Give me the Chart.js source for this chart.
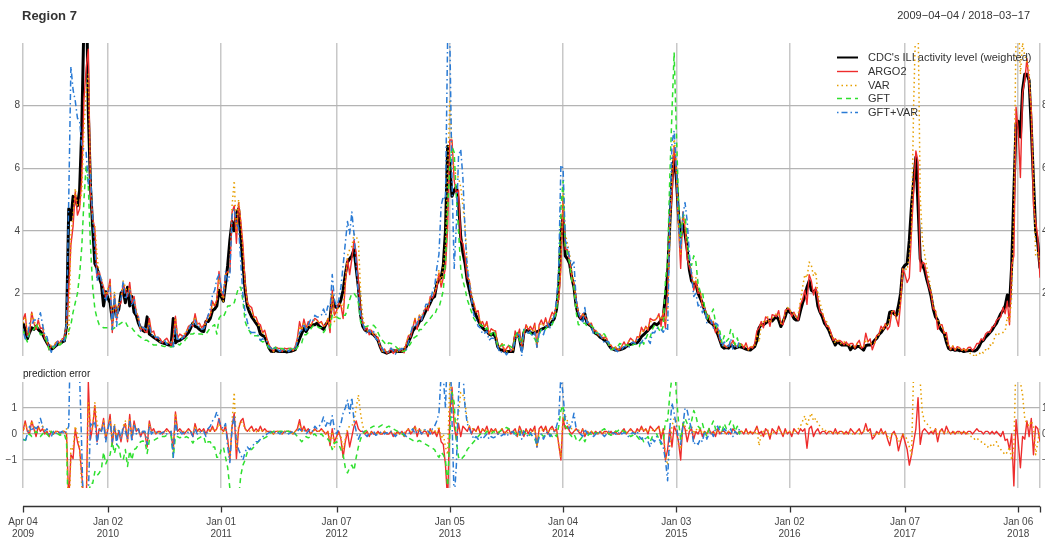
<!DOCTYPE html>
<html>
<head>
<meta charset="utf-8">
<title>Region 7</title>
<script src="https://cdn.jsdelivr.net/npm/chart.js@4.4.1/dist/chart.umd.min.js"></script>
<style>
  body { margin: 0; background: #fff; }
  #wrap { position: relative; width: 1045px; height: 550px; }
  canvas { position: absolute; left: 0; }
  #main { top: 0; }
  #err { top: 362px; }
</style>
</head>
<body>
<div id="wrap">
  <canvas id="main" width="1045" height="362"></canvas>
  <canvas id="err" width="1045" height="188"></canvas>
</div>
<script>
// Weekly series, week 0 = 2009-04-04 ... week 467 = 2018-03-17
const cdc = [
  1.05, 0.85, 0.55, 0.75, 0.9, 0.85, 0.95, 0.85, 0.78, 0.7,
  0.55, 0.42, 0.3, 0.22, 0.26, 0.32, 0.38, 0.4, 0.45, 0.48,
  0.95, 4.7, 4.35, 5.1, 5.05, 4.8, 5.3, 7.3, 10.8, 12.2,
  7.8, 5.4, 4.1, 2.95, 2.8, 2.5, 2.3, 1.6, 2.05, 1.85,
  1.7, 1.15, 1.65, 1.35, 1.5, 2.0, 2.1, 1.7, 2.2, 1.6,
  1.9, 1.4, 1.3, 1.05, 0.9, 0.82, 0.78, 1.25, 0.7, 0.65,
  0.6, 0.55, 0.5, 0.45, 0.42, 0.4, 0.37, 0.35, 0.34, 1.2,
  0.42, 0.48, 0.5, 0.55, 0.6, 0.67, 0.75, 0.9, 1.05, 0.95,
  0.92, 0.85, 0.8, 0.78, 1.1, 1.1, 1.2, 1.45, 1.5, 1.6,
  2.1, 1.9, 1.75, 2.3, 2.9, 3.7, 4.3, 4.0, 4.55, 4.7,
  3.8, 2.95, 2.1, 1.6, 1.4, 1.25, 1.15, 1.05, 0.95, 0.7,
  0.65, 0.62, 0.45, 0.25, 0.15, 0.14, 0.18, 0.15, 0.14, 0.14,
  0.15, 0.13, 0.14, 0.15, 0.17, 0.2, 0.38, 0.55, 0.72, 0.88,
  0.78, 0.9, 0.95, 1.0, 1.0, 1.05, 0.95, 0.9, 0.85, 1.0,
  1.1, 1.2, 1.9, 1.6, 1.55, 1.6, 1.8, 2.1, 2.6, 3.0,
  3.1, 3.2, 3.4, 2.8, 2.2, 1.3, 0.95, 0.83, 0.8, 0.78,
  0.72, 0.68, 0.6, 0.5, 0.3, 0.15, 0.12, 0.09, 0.12, 0.15,
  0.18, 0.16, 0.14, 0.15, 0.14, 0.2, 0.3, 0.45, 0.6, 0.8,
  0.9, 0.95, 1.1, 1.15, 1.3, 1.45, 1.55, 1.7, 1.85, 1.9,
  2.3, 2.45, 2.5, 2.9, 4.0, 6.7, 6.1, 5.1, 5.3, 5.4,
  4.9, 3.8, 3.3, 2.95, 2.4, 2.1, 1.8, 1.5, 1.3, 1.15,
  1.0, 0.9, 0.83, 0.8, 0.7, 0.67, 0.72, 0.6, 0.3, 0.2,
  0.19, 0.15, 0.14, 0.14, 0.15, 0.14, 0.6, 0.7, 0.56, 0.2,
  0.75, 0.8, 0.83, 0.75, 0.72, 0.75, 0.78, 0.8, 0.85, 0.88,
  0.92, 0.95, 1.0, 1.1, 1.2, 1.5, 2.2, 3.8, 4.5, 3.2,
  3.1, 2.95, 2.5, 2.2, 1.6, 1.3, 1.2, 1.15, 1.35, 1.05,
  1.0, 0.95, 0.8, 0.72, 0.68, 0.6, 0.56, 0.5, 0.47, 0.35,
  0.25, 0.22, 0.19, 0.19, 0.2, 0.22, 0.25, 0.3, 0.35, 0.37,
  0.4, 0.4, 0.42, 0.5, 0.62, 0.68, 0.75, 0.82, 0.9, 0.95,
  1.04, 1.0, 1.05, 1.15, 1.26, 1.9, 2.6, 4.2, 5.6, 6.4,
  5.7, 4.5, 3.8, 4.2, 3.9, 3.4, 2.75, 2.4, 2.3, 2.3,
  2.0, 1.85, 1.68, 1.45, 1.26, 1.1, 1.05, 1.0, 0.85, 0.7,
  0.5, 0.3, 0.25, 0.27, 0.25, 0.35, 0.3, 0.25, 0.28, 0.3,
  0.28, 0.25, 0.22, 0.2, 0.19, 0.25, 0.3, 0.5, 0.9, 1.0,
  1.0, 1.05, 1.1, 1.15, 1.12, 1.2, 1.26, 1.15, 0.94, 1.1,
  1.26, 1.5, 1.4, 1.36, 1.2, 1.15, 1.15, 1.45, 1.7, 1.9,
  2.2, 2.4, 2.1, 2.05, 2.1, 1.6, 1.4, 1.26, 1.05, 0.95,
  0.83, 0.65, 0.5, 0.35, 0.46, 0.4, 0.35, 0.36, 0.35, 0.34,
  0.2, 0.3, 0.25, 0.3, 0.3, 0.25, 0.19, 0.33, 0.35, 0.35,
  0.4, 0.5, 0.56, 0.68, 0.75, 0.85, 0.94, 1.04, 1.4, 1.42,
  1.35, 1.3, 1.6, 2.0, 2.8, 2.9, 2.95, 3.7, 4.8, 5.6,
  6.35, 4.8, 3.1, 2.9, 2.75, 2.45, 2.2, 1.9, 1.5, 1.25,
  1.15, 0.9, 0.8, 0.72, 0.45, 0.25, 0.2, 0.22, 0.18, 0.2,
  0.17, 0.18, 0.14, 0.16, 0.17, 0.18, 0.17, 0.16, 0.2, 0.3,
  0.45, 0.5, 0.6, 0.67, 0.75, 0.83, 0.95, 1.04, 1.2, 1.35,
  1.45, 1.6, 1.95, 1.6, 2.9, 5.2, 7.4, 7.5, 7.0, 8.5,
  9.0, 9.0, 8.8, 7.3, 5.6, 4.0, 3.6, 2.8
];

// prediction errors (model estimate minus CDC), same weeks
const argoErr = [
  0.1, 0.5, 0.1, 0.0, 0.5, 0.2, -0.1, 0.3, 0.1, 0.2, 0.0, 0.1, -0.1, 0.1, 0.0, 0.1, 0.1, 0.0, 0.1, 0.1, 0.0,
  -2.6, -0.8, -0.95, 0.2, -0.3, -0.6, -1.6, -2.6, -3.0, 2.0, -0.2, 0.3, 1.1, -0.3, 0.2,
  0.1, 0.6, -0.2, 0.2, 0.75, -0.4, 0.3, -0.2, 0.1, -0.3, 0.2, 0.4, -0.3, 0.75, -0.2, 0.5, 0.1, 0.2, -0.1, 0.1,
  0.0, -0.5, 0.5, 0.1, 0.2, 0.0, 0.1, 0.1, 0.0, 0.1, 0.2, 0.1, 0.0, -0.6, 0.85, 0.1, 0.2, 0.1, 0.0, 0.1,
  0.2, 0.1, -0.1, 0.4, 0.1, 0.2, 0.1, 0.2, 0.0, 0.2, 0.1, 0.3, 0.1, 0.2, 0.6, 0.2, 0.1, 0.3, -0.2, -1.0,
  0.3, 0.8, -0.95, 0.2, 0.5, 0.6, 0.2, 0.1, 0.2, 0.3, 0.1, 0.2, 0.1, 0.3, 0.1, 0.2, 0.1, 0.1, 0.1, 0.0,
  0.1, 0.1, 0.1, 0.0, 0.1, 0.1, 0.1, 0.1, 0.0, 0.1, 0.2, 0.55, 0.1, 0.3, 0.1, 0.2, 0.0, 0.1, 0.2, 0.1,
  0.1, 0.2, 0.1, 0.0, 0.1, -0.45, 0.2, -0.3, -0.1, 0.1, -0.2, -0.9, -0.3, 0.1, -0.5, -0.1, 0.3, 0.5, 0.2, 0.1,
  0.1, 0.0, 0.1, -0.1, 0.1, 0.0, 0.0, 0.1, 0.0, 0.0, 0.1, 0.0, 0.0, 0.1, -0.1, 0.0, 0.1, 0.0, 0.1, -0.1,
  0.1, 0.2, 0.0, 0.1, 0.3, -0.1, 0.2, 0.0, 0.1, 0.1, -0.1, 0.2, 0.0, 0.1, -0.1, 0.2, -0.3, -0.4, -1.2, -2.6,
  0.8, 1.8, 0.3, -0.2, 0.4, -0.1, 0.3, 0.2, 0.1, 0.3, 0.0, 0.2, 0.1, 0.3, 0.0, 0.2, 0.1, 0.3, 0.0, 0.2,
  0.1, 0.2, 0.0, 0.1, 0.2, 0.0, 0.1, 0.2, 0.0, 0.1, 0.2, -0.1, 0.3, 0.1, -0.1, 0.2, 0.0, 0.2, 0.1, 0.3,
  -0.5, 0.2, 0.3, 0.1, 0.3, 0.0, 0.2, 0.3, 0.1, 0.2, -0.4, -1.0, 0.6, 0.2, 0.3, 0.1, 0.0, 0.1, 0.2, 0.1,
  0.0, 0.2, -0.1, 0.1, 0.0, 0.1, 0.0, 0.1, 0.0, 0.1, 0.0, 0.1, 0.1, 0.0, 0.1, 0.0, 0.1, 0.0, 0.0, 0.1,
  0.2, 0.0, 0.1, 0.2, 0.1, 0.0, 0.2, 0.1, 0.3, 0.1, 0.2, 0.0, 0.3, 0.2, 0.1, 0.2, 0.3, -0.2, 0.2, -1.0,
  -0.6, 0.2, -0.5, 0.3, 0.1, -0.3, -1.0, 0.4, 0.2, -0.3, 0.1, 0.2, -0.2, 0.1, 0.0, 0.2, -0.1, 0.1, 0.0, 0.2,
  0.0, 0.1, -0.1, 0.2, 0.0, 0.1, 0.1, 0.0, 0.1, 0.0, 0.2, 0.1, 0.0, 0.1, 0.1, 0.0, 0.2, 0.0, 0.1, 0.0,
  0.1, 0.3, 0.0, 0.1, -0.1, 0.2, 0.1, -0.2, 0.2, 0.1, 0.0, 0.3, 0.1, -0.1, 0.2, 0.0, 0.1, -0.1, 0.2, 0.1,
  0.0, 0.2, 0.1, 0.2, -0.55, 0.2, 0.3, -0.1, 0.1, 0.2, 0.0, 0.1, 0.1, 0.0, 0.1, 0.1, 0.0, 0.2, 0.0, 0.1,
  0.1, 0.0, 0.1, 0.0, 0.2, 0.1, 0.0, 0.1, 0.2, 0.0, 0.1, 0.4, 0.1, 0.2, -0.2, -0.1, 0.1, 0.0, 0.2, 0.0,
  0.1, -0.2, -0.45, 0.0, 0.1, -0.1, -0.65, -0.3, 0.0, -0.3, -0.6, -1.2, -0.8, -0.3, 0.2, 1.4, -0.4, 0.1, 0.2, 0.1,
  0.0, 0.1, 0.0, 0.2, -0.3, 0.1, 0.2, 0.0, 0.3, 0.1, 0.0, 0.1, 0.0, 0.1, 0.1, 0.0, 0.1, 0.0, 0.1, 0.1,
  0.0, 0.1, 0.2, 0.1, 0.1, 0.0, 0.1, 0.1, 0.0, 0.1, 0.0, 0.1, 0.0, -0.1, 0.1, -0.25, -0.2, -0.6, 0.0, -2.0,
  0.55, -0.3, -1.3, -0.1, -0.2, 0.5, -0.1, 0.6, -0.8, 0.3, 0.2, -0.3
];

const varErr = [
  0.0, 0.4, 0.2, 0.1, 0.5, 0.3, 0.0, 0.2, 0.2, 0.3, 0.1, 0.0, 0.1, 0.1, 0.0, 0.1, 0.05, 0.0, 0.1, 0.1, 0.2,
  -4.0, -0.5, -0.6, 0.3, 0.0, -0.5, -2.0, -3.5, -3.8, 1.2, 0.3, 0.2, 1.2, 0.4, 0.1,
  0.2, 0.5, -0.1, 0.3, 0.6, -0.2, 0.4, -0.1, 0.2, -0.2, 0.3, 0.5, -0.2, 0.6, -0.1, 0.4, 0.2, 0.1, 0.0, 0.1,
  0.1, -0.4, 0.4, 0.1, 0.1, 0.05, 0.1, 0.0, 0.05, 0.1, 0.1, 0.05, 0.1, -0.7, 0.8, 0.1, 0.1, 0.05, 0.1, 0.1,
  0.15, 0.1, 0.0, 0.3, 0.1, 0.1, 0.15, 0.1, 0.0, 0.1, 0.1, 0.2, 0.1, 0.2, 0.4, 0.1, 0.0, 0.3, -0.3, -0.9,
  0.5, 1.6, -0.6, 0.3, 0.5, 0.4, 0.2, 0.1, 0.1, 0.2, 0.1, 0.1, 0.05, 0.2, 0.1, 0.1, 0.05, 0.1, 0.05, 0.0,
  0.05, 0.1, 0.05, 0.0, 0.1, 0.05, 0.1, 0.05, 0.0, 0.1, 0.1, 0.4, 0.1, 0.2, 0.1, 0.1, 0.0, 0.1, 0.15, 0.1,
  0.1, 0.15, 0.1, 0.0, 0.1, -0.3, 0.1, -0.5, -0.2, 0.0, -0.1, -0.6, -0.2, 0.2, 0.3, 0.3, 0.5, 1.0, 1.5, 0.8,
  0.3, 0.1, 0.0, 0.1, 0.05, 0.0, 0.1, 0.0, 0.05, 0.0, 0.1, 0.0, 0.05, 0.1, 0.0, 0.05, 0.0, 0.1, 0.0, 0.05,
  0.1, 0.2, 0.1, 0.15, 0.3, 0.1, 0.2, 0.1, 0.15, 0.1, 0.0, 0.2, 0.1, 0.15, 0.0, 0.3, -0.2, 0.0, -0.5, -0.8,
  2.1, 1.5, 0.6, 0.4, 0.8, 1.6, 1.5, 1.2, 0.5, 0.3, 0.2, 0.2, 0.1, 0.2, 0.1, 0.15, 0.1, 0.2, 0.05, 0.1,
  0.1, 0.15, 0.05, 0.1, 0.2, 0.1, 0.0, 0.1, 0.1, 0.05, 0.1, -0.1, 0.2, 0.0, 0.0, 0.15, 0.1, 0.1, 0.05, 0.2,
  -0.5, 0.1, 0.2, 0.1, 0.2, 0.1, 0.1, 0.2, 0.1, 0.1, -0.4, -0.9, 0.8, 0.7, 0.5, 0.3, 0.2, 0.2, 0.1, 0.15,
  0.1, 0.15, 0.0, 0.1, 0.05, 0.1, 0.0, 0.1, 0.05, 0.0, 0.1, 0.05, 0.0, 0.1, 0.05, 0.0, 0.1, 0.0, 0.05, 0.1,
  0.1, 0.05, 0.1, 0.15, 0.1, 0.05, 0.1, 0.15, 0.2, 0.1, 0.2, 0.05, 0.2, 0.15, 0.1, 0.2, 0.25, 0.0, 0.1, -0.8,
  -1.2, -0.5, 0.3, 0.6, 0.5, -0.4, -0.6, 0.4, 0.3, 0.1, 0.2, 0.3, 0.0, 0.2, 0.1, 0.2, 0.0, 0.1, 0.05, 0.1,
  0.05, 0.1, 0.0, 0.1, 0.05, 0.1, 0.05, 0.0, 0.1, 0.05, 0.15, 0.1, 0.0, 0.1, 0.1, 0.05, 0.1, 0.0, 0.1, 0.05,
  0.0, 0.2, -0.45, 0.0, 0.1, 0.0, 0.15, -0.1, 0.1, 0.05, 0.1, 0.2, 0.1, 0.0, 0.1, 0.05, 0.1, 0.0, 0.15, 0.1,
  0.2, 0.3, 0.5, 0.7, 0.3, 0.6, 0.8, 0.5, 0.6, 0.4, 0.3, 0.2, 0.1, 0.15, 0.1, 0.0, 0.1, 0.05, 0.1, 0.0,
  0.05, 0.1, 0.0, 0.05, 0.1, 0.0, 0.05, 0.1, 0.0, 0.05, 0.1, 0.2, 0.1, 0.05, 0.0, -0.1, 0.05, 0.0, 0.1, 0.0,
  0.05, -0.1, -0.2, 0.0, 0.05, -0.1, -0.3, -0.2, 0.0, -0.1, -0.2, -0.5, -0.8, 2.5, 4.5, 6.0, 2.0, 0.8, 0.5, 0.4,
  0.3, 0.2, 0.1, 0.2, 0.0, 0.1, 0.15, 0.05, 0.1, 0.05, 0.0, 0.1, 0.05, 0.0, 0.1, 0.05, 0.0, 0.1, 0.0, -0.1,
  -0.1, -0.2, -0.15, -0.25, -0.3, -0.4, -0.4, -0.5, -0.4, -0.5, -0.4, -0.3, -0.5, -0.6, -0.7, -0.8, -0.7, -0.5, -1.0, -0.5,
  3.0, 3.5, 2.0, 1.5, 0.6, 0.4, 0.3, 0.5, 0.3, -0.8, -0.3, 0.2
];

// GFT series stop in mid 2015
const gftErr = [
  -0.2, -0.25, -0.1, 0.0, -0.1, 0.0, 0.1, 0.0, -0.1, 0.0, 0.1, 0.0, -0.1, 0.1, 0.0, 0.05, 0.0, -0.05, 0.0, 0.0, -0.3,
  -3.9, -3.35, -3.7, -3.35, -2.8, -2.7, -3.8, -5.8, -6.1, -2.4, -1.9, -1.9, -1.45, -1.6, -1.5,
  -1.35, -0.7, -1.15, -0.95, -0.8, -0.3, -0.75, -0.4, -0.5, -0.95, -1.0, -0.6, -1.25, -0.65, -1.0, -0.6, -0.55, -0.4, -0.3, -0.27,
  -0.28, -0.75, -0.25, -0.25, -0.25, -0.2, -0.15, -0.1, -0.1, -0.1, -0.05, -0.05, -0.05, -0.9, -0.1, -0.1, -0.15, -0.1, -0.15, -0.1,
  -0.15, -0.2, -0.35, -0.2, -0.2, -0.15, -0.1, -0.1, -0.4, -0.3, -0.3, -0.5, -0.5, -0.9, -0.9, -0.6, -0.5, -0.9, -1.3, -2.1,
  -2.6, -2.3, -2.6, -2.5, -1.6, -1.2, -1.0, -0.7, -0.6, -0.6, -0.5, -0.4, -0.3, -0.2, -0.2, -0.15, -0.1, 0.0, 0.05, 0.1,
  0.1, 0.05, 0.1, 0.1, 0.05, 0.1, 0.1, 0.05, 0.1, 0.0, -0.1, -0.2, -0.3, -0.2, -0.1, -0.15, -0.1, -0.05, 0.0, -0.1,
  -0.05, 0.0, -0.1, -0.15, -0.2, -0.3, -0.6, -0.35, -0.3, -0.4, -0.6, -0.8, -1.3, -1.5, -1.3, -1.2, -1.4, -0.9, -0.5, -0.2,
  0.0, 0.1, 0.15, 0.2, 0.25, 0.3, 0.3, 0.25, 0.3, 0.35, 0.3, 0.25, 0.3, 0.25, 0.2, 0.15, 0.1, 0.05, 0.0, -0.05,
  -0.1, -0.15, -0.2, -0.25, -0.3, -0.3, -0.25, -0.3, -0.35, -0.4, -0.45, -0.5, -0.55, -0.6, -0.8, -0.9, -0.7, -0.8, -1.0, -2.0,
  0.0, 1.6, 1.2, -0.3, -0.9, -1.0, -0.9, -0.8, -0.6, -0.5, -0.4, -0.3, -0.2, -0.1, 0.0, 0.05, 0.0, 0.1, 0.05, 0.0,
  0.1, 0.05, 0.0, 0.1, 0.15, 0.2, 0.25, 0.2, 0.15, 0.1, 0.0, 0.05, -0.05, 0.2, 0.1, 0.0, -0.1, 0.0, -0.1, -0.2,
  -0.4, -0.1, 0.0, -0.1, -0.05, 0.0, 0.0, -0.1, 0.0, -0.1, 0.3, 0.9, 1.1, 0.3, 0.2, 0.0, -0.1, 0.0, -0.2, -0.3,
  -0.2, -0.1, -0.3, -0.1, 0.0, 0.0, 0.1, 0.0, 0.05, 0.1, 0.15, 0.2, 0.1, 0.0, -0.05, 0.0, 0.1, 0.1, 0.2, 0.15,
  0.1, 0.05, 0.0, -0.1, -0.05, 0.0, -0.1, -0.2, -0.1, -0.3, -0.2, -0.1, -0.3, -0.1, -0.05, 0.0, -0.2, -0.4, -0.3, 0.5,
  0.5, 1.5, 2.2, 3.3, 1.5, 0.5, -0.2, 0.3, 0.6, 0.4, 0.2, 0.5, 0.9, 0.7, 0.3, 0.2, 0.4, 0.1, -0.1, 0.2,
  0.3, 0.5, 0.2, 0.1, 0.3, 0.1, 0.4, 0.2, 0.3, 0.5, 0.4, 0.1, 0.3, 0.0, 0.2
];

const gftVarErr = [
  -0.2, -0.3, 0.0, 0.3, 0.1, 0.3, 0.2, 0.3, 0.6, 0.3, 0.1, 0.2, 0.0, -0.1, 0.1, 0.0, 0.1, 0.05, 0.1, 0.0, 0.1,
  0.3, 4.9, 3.4, 3.1, 2.8, 2.2, -0.6, -4.2, -5.7, -2.3, 0.4, 0.3, 0.5, -0.4, 0.2,
  0.1, 0.4, -0.3, 0.2, 0.5, -0.3, 0.3, -0.4, 0.2, -0.2, 0.3, 0.1, -0.2, 0.5, -0.3, 0.4, 0.0, 0.2, -0.1, 0.1,
  0.1, -0.4, 0.3, 0.0, 0.1, 0.05, 0.1, 0.0, 0.05, 0.1, 0.0, 0.05, 0.1, -0.9, 0.5, 0.0, 0.1, 0.0, 0.05, 0.1,
  0.05, 0.1, -0.1, 0.2, 0.0, 0.1, 0.05, 0.1, -0.1, 0.2, 0.3, 0.5, 0.6, 0.85, 0.5, 0.3, 0.2, 0.4, -0.5, -1.1,
  0.2, 0.7, -0.3, -0.6, -0.8, -1.0, -0.7, -0.5, -0.6, -0.5, -0.4, -0.3, -0.3, -0.2, -0.1, -0.1, 0.0, 0.05, 0.1, 0.05,
  0.1, 0.05, 0.0, 0.1, 0.05, 0.1, 0.0, 0.05, 0.1, 0.0, 0.1, 0.2, 0.1, 0.15, 0.0, 0.1, 0.2, 0.1, 0.3, 0.2,
  0.3, 0.4, 0.65, 0.3, 0.5, 0.3, 0.7, 0.2, 0.0, 0.2, 0.4, 0.8, 1.0, 1.3, 0.8, 1.4, 0.5, 0.1, -0.2, 0.0,
  0.1, 0.0, -0.1, 0.05, 0.0, 0.1, -0.05, 0.0, 0.05, 0.1, 0.0, 0.05, 0.0, 0.1, 0.0, -0.1, 0.0, 0.05, 0.1, 0.0,
  -0.1, 0.0, 0.1, 0.2, 0.0, 0.1, 0.15, 0.0, 0.1, 0.2, 0.1, 0.0, 0.2, 0.3, 0.5, 0.8, 2.3, 2.2, 1.0, 3.5,
  4.0, 0.5, -2.5, -1.2, 1.5, 2.8, 2.4, 1.0, 0.4, 0.2, 0.0, -0.2, -0.1, -0.2, -0.1, -0.2, -0.1, 0.0, -0.2, -0.1,
  -0.15, -0.1, 0.0, -0.1, -0.05, 0.0, -0.1, 0.0, 0.05, 0.1, -0.1, 0.0, 0.1, -0.2, 0.1, 0.0, -0.1, 0.05, -0.1, 0.0,
  -0.5, -0.1, 0.0, -0.2, 0.0, 0.1, -0.1, 0.0, 0.1, 0.3, 0.6, 2.3, 1.5, 0.5, 0.4, 0.2, 0.4, 0.8, 0.2, 0.1,
  0.0, -0.1, 0.2, 0.0, 0.1, 0.0, -0.1, 0.0, 0.1, 0.05, 0.0, -0.1, 0.0, 0.1, 0.0, 0.05, 0.0, -0.05, 0.1, 0.0,
  0.05, 0.0, -0.1, 0.0, 0.05, 0.0, 0.1, -0.1, -0.2, -0.1, -0.2, -0.3, -0.5, -0.2, -0.3, -0.1, -0.2, -0.3, -0.5, -1.0,
  -1.8, 0.2, 1.2, 0.8, 0.3, -0.2, -0.4, 0.3, 1.0, 0.9, 0.5, 0.2, -0.4, -0.3, -0.4, -0.2, -0.3, 0.1, -0.2, 0.0,
  0.1, -0.1, 0.2, 0.3, 0.1, 0.0, 0.2, 0.1, 0.0, 0.2, -0.1, 0.1, 0.0, 0.2
];

// x-axis ticks (week index) with their two-line labels
const tickWeeks = [0, 39, 91, 144, 196, 248, 300, 352, 405, 457, 467];
const tickDays = ['Apr 04', 'Jan 02', 'Jan 01', 'Jan 07', 'Jan 05', 'Jan 04', 'Jan 03', 'Jan 02', 'Jan 07', 'Jan 06', ''];
const tickYears = ['2009', '2010', '2011', '2012', '2013', '2014', '2015', '2016', '2017', '2018', ''];
const mainTicks = [2, 4, 6, 8];
const errTicks = [-1, 0, 1];

const FONT = '"Liberation Sans", Arial, Helvetica, sans-serif';
Chart.defaults.font.family = FONT;

const cdcStyle = { label: "CDC's ILI activity level (weighted)", color: '#000000', width: 3, dash: [] };
const models = [
  { label: 'ARGO2', err: argoErr, color: '#ee2c2c', width: 1.4, dash: [] },
  { label: 'VAR', err: varErr, color: '#e69f00', width: 1.5, dash: [1.5, 3] },
  { label: 'GFT', err: gftErr, color: '#2ee02e', width: 1.5, dash: [5, 4] },
  { label: 'GFT+VAR', err: gftVarErr, color: '#2a7bd5', width: 1.5, dash: [1.5, 3, 6, 3] }
];

function lineSet(label, points, s, order) {
  return {
    label: label, data: points, borderColor: s.color, borderWidth: s.width,
    borderDash: s.dash, pointRadius: 0, tension: 0, fill: false,
    borderJoinStyle: 'round', order: order
  };
}

const mainSets = [lineSet(cdcStyle.label, cdc.map((v, i) => ({ x: i, y: v })), cdcStyle, 5)];
const errSets = [];
models.forEach((m, k) => {
  mainSets.push(lineSet(m.label, m.err.map((e, i) => ({ x: i, y: Math.round((cdc[i] + e) * 100) / 100 })), m, 4 - k));
  errSets.push(lineSet(m.label, m.err.map((e, i) => ({ x: i, y: e })), m, 4 - k));
});

function xAxis() {
  return {
    type: 'linear', min: 0, max: 467,
    ticks: { display: false },
    grid: { color: '#c8c8c8', lineWidth: 1.5, drawTicks: false },
    border: { display: false },
    afterBuildTicks: s => { s.ticks = tickWeeks.map(v => ({ value: v })); },
    afterFit: s => { s.height = 0; }
  };
}

function yAxis(min, max, values, side, width, pad) {
  return {
    type: 'linear', position: side, min: min, max: max,
    ticks: {
      color: '#444', font: { size: 10 }, padding: pad,
      callback: v => (v < 0 ? '\u2212' + Math.abs(v) : String(v))
    },
    grid: { color: '#b4b4b4', lineWidth: 1.2, drawTicks: false, drawOnChartArea: side === 'left' },
    border: { display: false },
    afterBuildTicks: s => { s.ticks = values.map(v => ({ value: v })); },
    afterFit: s => { s.width = width; s.paddingTop = 0; s.paddingBottom = 0; }
  };
}

const baseOptions = {
  responsive: false, animation: false, devicePixelRatio: 1, events: [],
  plugins: { legend: { display: false }, tooltip: { enabled: false } }
};

// title, date range and legend for the upper panel
const mainDecor = {
  id: 'mainDecor',
  afterDraw(chart) {
    const ctx = chart.ctx;
    ctx.save();
    ctx.textBaseline = 'middle';
    ctx.fillStyle = '#333';
    ctx.font = 'bold 13px ' + FONT;
    ctx.textAlign = 'left';
    ctx.fillText('Region 7', 22, 16);
    ctx.font = '11px ' + FONT;
    ctx.textAlign = 'right';
    ctx.fillText('2009\u221204\u221204 / 2018\u221203\u221217', 1030, 16);

    const entries = [cdcStyle].concat(models);
    ctx.textAlign = 'left';
    entries.forEach((s, i) => {
      const y = Math.round(57 + i * 13.75) + 0.5;
      ctx.strokeStyle = s.color;
      ctx.lineWidth = s === cdcStyle ? 2 : s.width;
      ctx.setLineDash(s.dash);
      ctx.beginPath();
      ctx.moveTo(837, y);
      ctx.lineTo(858, y);
      ctx.stroke();
      ctx.setLineDash([]);
      ctx.fillStyle = '#333';
      ctx.fillText(s.label, 868, y);
    });
    ctx.restore();
  }
};

// panel caption and the shared time axis under the error panel
const errDecor = {
  id: 'errDecor',
  afterDraw(chart) {
    const ctx = chart.ctx;
    const xs = chart.scales.x;
    const axisY = 144.5;
    ctx.save();
    ctx.textBaseline = 'middle';
    ctx.fillStyle = '#222';
    ctx.font = '10px ' + FONT;
    ctx.textAlign = 'left';
    ctx.fillText('prediction error', 23, 12);

    ctx.strokeStyle = '#333';
    ctx.lineWidth = 1.3;
    ctx.beginPath();
    ctx.moveTo(xs.left, axisY);
    ctx.lineTo(xs.right, axisY);
    tickWeeks.forEach(w => {
      const px = Math.round(xs.getPixelForValue(w)) + 0.5;
      ctx.moveTo(px, axisY);
      ctx.lineTo(px, axisY + 6);
    });
    ctx.stroke();

    ctx.fillStyle = '#444';
    ctx.textAlign = 'center';
    tickWeeks.forEach((w, i) => {
      const px = xs.getPixelForValue(w);
      ctx.fillText(tickDays[i], px, 160.5);
      ctx.fillText(tickYears[i], px, 172.5);
    });
    ctx.restore();
  }
};

new Chart(document.getElementById('main').getContext('2d'), {
  type: 'line',
  data: { datasets: mainSets },
  options: Object.assign({}, baseOptions, {
    layout: { padding: { top: 43, bottom: 6, left: 0, right: 0 } },
    scales: {
      x: xAxis(),
      y: yAxis(0, 10, mainTicks, 'left', 23, 3),
      yr: yAxis(0, 10, mainTicks, 'right', 5, 2)
    }
  }),
  plugins: [mainDecor]
});

new Chart(document.getElementById('err').getContext('2d'), {
  type: 'line',
  data: { datasets: errSets },
  options: Object.assign({}, baseOptions, {
    layout: { padding: { top: 20, bottom: 62, left: 0, right: 0 } },
    scales: {
      x: xAxis(),
      y: yAxis(-2.08, 2, errTicks, 'left', 23, 6),
      yr: yAxis(-2.08, 2, errTicks, 'right', 5, 2)
    }
  }),
  plugins: [errDecor]
});
</script>
</body>
</html>
